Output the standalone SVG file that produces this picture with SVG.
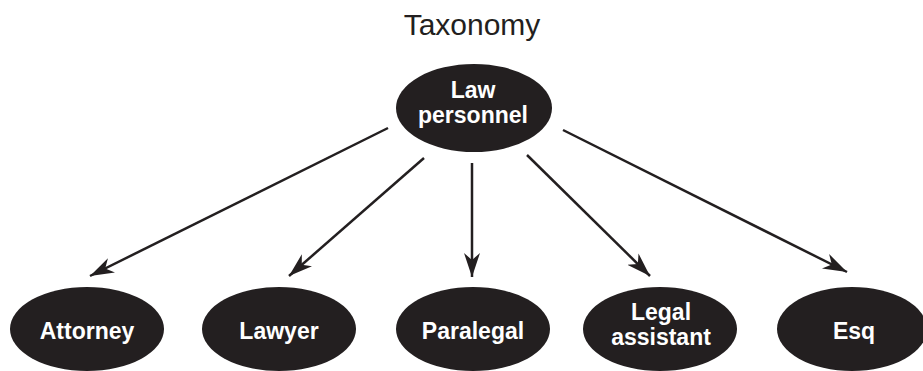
<svg xmlns="http://www.w3.org/2000/svg" width="923" height="371" viewBox="0 0 923 371">
<style>
.node ellipse{fill:#231f20}
.node text{fill:#fff;font-family:"Liberation Sans",Arial,sans-serif;font-weight:bold;font-size:23px;text-anchor:middle}
.edge{stroke:#231f20;stroke-width:2.5;fill:none;marker-end:url(#ah)}
.title{fill:#231f20;font-family:"Liberation Sans",Arial,sans-serif;font-size:30px;text-anchor:middle}
</style>
<defs>
<marker id="ah" markerUnits="userSpaceOnUse" markerWidth="26" markerHeight="18" refX="24" refY="8" orient="auto">
<path d="M0,0 L24,8 L0,16 L7,8 Z" fill="#231f20"/>
</marker>
</defs>
<rect width="923" height="371" fill="#fff"/>
<text class="title" x="472" y="35">Taxonomy</text>
<g id="connectors">
<line class="edge" x1="388" y1="128" x2="90" y2="276"/>
<line class="edge" x1="424" y1="158" x2="289" y2="276"/>
<line class="edge" x1="472" y1="163" x2="472" y2="277"/>
<line class="edge" x1="527" y1="155" x2="650" y2="276"/>
<line class="edge" x1="563" y1="130" x2="847" y2="272"/>
</g>
<g id="law-personnel" class="node">
<ellipse cx="474" cy="108" rx="78" ry="44"/>
<text x="473" y="98">Law</text>
<text x="473" y="123">personnel</text>
</g>
<g id="attorney" class="node">
<ellipse cx="87" cy="329" rx="77" ry="42"/>
<text x="87" y="339">Attorney</text>
</g>
<g id="lawyer" class="node">
<ellipse cx="279" cy="329" rx="77" ry="42"/>
<text x="279" y="339">Lawyer</text>
</g>
<g id="paralegal" class="node">
<ellipse cx="473" cy="329" rx="77" ry="42"/>
<text x="473" y="339">Paralegal</text>
</g>
<g id="legal-assistant" class="node">
<ellipse cx="660" cy="329" rx="77" ry="42"/>
<text x="661" y="320">Legal</text>
<text x="661" y="345">assistant</text>
</g>
<g id="esq" class="node">
<ellipse cx="852" cy="329" rx="75" ry="42"/>
<text x="854" y="339">Esq</text>
</g>
</svg>
